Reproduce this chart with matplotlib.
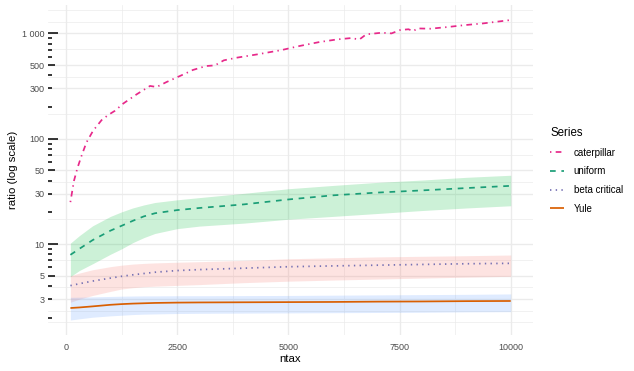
import numpy as np
import matplotlib
matplotlib.use("Agg")
from matplotlib import pyplot as plt

#-----------------------------------------------------------------------------------#
## data

ntax = [100, 300, 600, 1000, 1250, 1500, 1750, 2000, 2500, 3000, 4000, 5000,
        6000, 7000, 8000, 9000, 10000]

uniform    = [7.9, 9.0, 10.9, 13.4, 14.9, 16.6, 18.3, 19.6, 21.0, 22.0, 23.8, 26.5,
              29.0, 30.8, 32.3, 34.0, 35.7]
uniform_lo = [4.9, 5.6, 6.5, 8.0, 9.0, 10.3, 11.5, 12.6, 14.0, 14.8, 15.8, 17.2,
              18.3, 19.5, 20.8, 22.0, 23.1]
uniform_hi = [10.2, 12.0, 14.9, 18.3, 20.2, 22.0, 23.5, 24.8, 26.3, 27.6, 30.3, 33.5,
              36.0, 38.5, 40.5, 43.0, 45.0]

beta    = [4.03, 4.2, 4.45, 4.75, 4.94, 5.1, 5.25, 5.4, 5.6, 5.72, 5.9, 6.09,
           6.2, 6.3, 6.4, 6.5, 6.56]
beta_lo = [2.8, 3.0, 3.25, 3.55, 3.74, 3.85, 3.93, 3.98, 4.05, 4.12, 4.3, 4.44,
           4.55, 4.65, 4.75, 4.85, 4.94]
beta_hi = [5.0, 5.3, 5.7, 6.1, 6.3, 6.45, 6.55, 6.62, 6.72, 6.8, 7.0, 7.25,
           7.4, 7.55, 7.65, 7.75, 7.87]

yule    = [2.47, 2.5, 2.56, 2.65, 2.69, 2.72, 2.74, 2.76, 2.78, 2.79, 2.8, 2.81,
           2.82, 2.84, 2.85, 2.87, 2.88]
yule_lo = [1.9, 1.95, 2.02, 2.08, 2.11, 2.14, 2.16, 2.17, 2.19, 2.2, 2.21, 2.22,
           2.23, 2.24, 2.25, 2.27, 2.28]
yule_hi = [3.12, 3.13, 3.15, 3.18, 3.2, 3.21, 3.22, 3.22, 3.23, 3.23, 3.24, 3.25,
           3.27, 3.29, 3.31, 3.33, 3.36]

cat_x = [100, 180, 260, 350, 460, 610, 800, 950, 1100, 1290, 1590, 1890, 2040, 2260,
         2680, 2850, 3150, 3350, 3550, 3850, 4300, 4850, 5250, 5700, 6100, 6400, 6600,
         6750, 7100, 7320, 7510, 7700, 7810, 7900, 8190, 8560, 8970, 9380, 10000]
cat_y = [25, 39.8, 53, 68.7, 92, 119, 150, 168, 184, 216, 264, 317, 310, 345,
         415, 449, 490, 497, 555, 589, 632, 695, 759, 828, 877, 902, 877,
         979, 1015, 1000, 1075, 1095, 1051, 1115, 1108, 1147, 1199, 1244, 1340]

y_breaks = [3, 5, 10, 30, 50, 100, 300, 500, 1000]
y_labels = ["3", "5", "10", "30", "50", "100", "300", "500", "1 000"]
x_breaks = [0, 2500, 5000, 7500, 10000]
x_labels = ["0", "2500", "5000", "7500", "10000"]

#-----------------------------------------------------------------------------------#
## style

plt.rcParams['font.family'] = ['Liberation Sans', 'DejaVu Sans']
plt.rcParams['lines.scale_dashes'] = False
GRID = "#EBEBEB"
LW = 1.25

fig = plt.figure(figsize=(6.34, 3.71), dpi=100)
ax = fig.add_axes([0.0763, 0.097, 0.764, 0.8895])
ax.set_yscale("log")

# ribbons
ax.fill_between(ntax, uniform_lo, uniform_hi, color="#00BA38", alpha=0.2, lw=0)
ax.fill_between(ntax, beta_lo, beta_hi, color="#F8766D", alpha=0.2, lw=0)
ax.fill_between(ntax, yule_lo, yule_hi, color="#619CFF", alpha=0.2, lw=0)

# lines
ax.plot(cat_x, cat_y, color="#E7298A", lw=LW, dashes=(1.0, 3.1, 4.1, 3.1),
        dash_capstyle="butt", label="caterpillar")
ax.plot(ntax, uniform, color="#1B9E77", lw=LW, dashes=(4.1, 4.1),
        dash_capstyle="butt", label="uniform")
ax.plot(ntax, beta, color="#7570B3", lw=LW, dashes=(1.0, 3.1),
        dash_capstyle="butt", label="beta critical")
ax.plot(ntax, yule, color="#D95F02", lw=LW, solid_capstyle="butt", label="Yule")

ax.margins(x=0.05, y=0.05)
ax.autoscale_view()
ylo, yhi = ax.get_ylim()

#-----------------------------------------------------------------------------------#
## axes, grid

ax.set_xticks(x_breaks, x_labels)
ax.set_xticks([1250, 3750, 6250, 8750], minor=True)
ax.set_yticks(y_breaks, y_labels)
lb = np.log10(y_breaks)
bd = lb[1] - lb[0]
ext = np.concatenate([[lb[0] - bd], lb, [lb[-1] + bd]])
ymin = np.unique(np.concatenate([(ext[:-1] + ext[1:]) / 2, ext[[0, -1]]]))
ax.set_yticks(10 ** ymin, minor=True)
ax.yaxis.set_minor_formatter(matplotlib.ticker.NullFormatter())
ax.set_ylim(ylo, yhi)

ax.grid(which="major", color=GRID, lw=1.0)
ax.grid(which="minor", color=GRID, lw=0.5)
ax.set_axisbelow(True)
for s in ax.spines.values():
    s.set_visible(False)
ax.tick_params(which="both", length=0)
ax.tick_params(axis="x", labelsize=6.5, labelcolor="#4D4D4D", pad=5.5)
ax.tick_params(axis="y", labelsize=6.5, labelcolor="#4D4D4D", pad=2.8)

# log ticks on the left edge of the panel
tr = ax.get_yaxis_transform()
for dec in [1, 10, 100, 1000]:
    for m in range(1, 10):
        v = m * dec
        if v < ylo or v > yhi:
            continue
        L = 0.0207 if m == 1 else (0.0138 if m == 5 else 0.0083)
        ax.plot([0, L], [v, v], color="black", lw=1.1, transform=tr,
                solid_capstyle="butt")

ax.set_xlabel("ntax", fontsize=8.2, labelpad=2)
ax.set_ylabel("ratio (log scale)", fontsize=8.2, labelpad=3)

leg = ax.legend(title="Series", loc="upper left", bbox_to_anchor=(0.868, 0.658),
                bbox_transform=fig.transFigure, frameon=False, fontsize=7.0,
                title_fontsize=8.3, handlelength=1.4, handletextpad=1.0,
                labelspacing=0.9, borderpad=0, borderaxespad=0, alignment="left")

fig.savefig("out.png", dpi=100)
